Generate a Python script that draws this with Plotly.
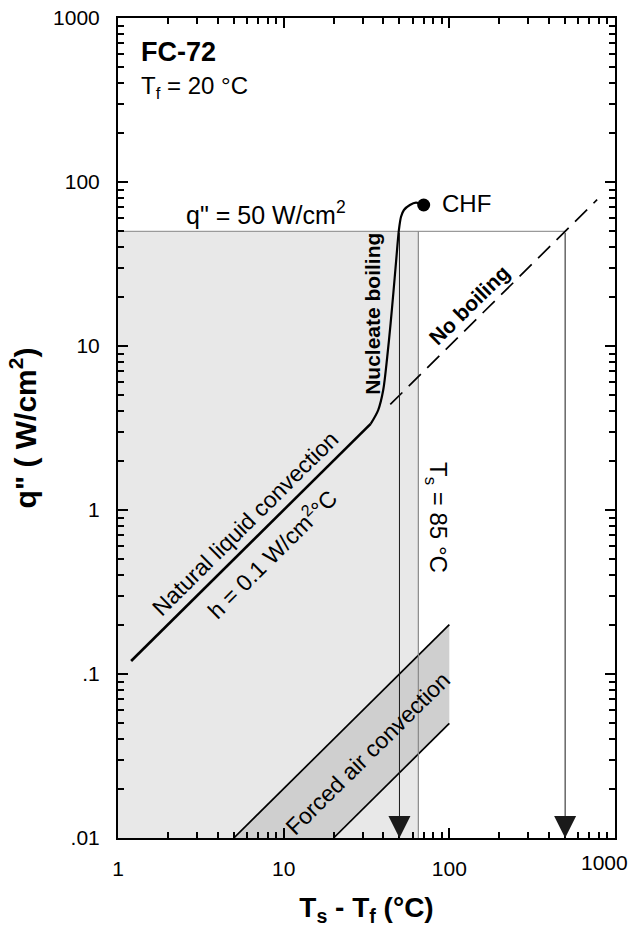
import math
import plotly.graph_objects as go

# ---------------- data ----------------
# Natural liquid convection, h = 0.1 W/cm2 C
NAT_DT = [1.2, 33.5]
NAT_Q = [0.12, 3.35]
# Nucleate boiling curve up to CHF
NUC_DT = [33.5, 37.2, 39.9, 42.2, 44.2, 45.9, 47.6, 49.6, 51.1, 53.2, 57.8, 62.9, 70]
NUC_Q = [3.35, 4.07, 5.39, 8.61, 13.7, 20.9, 31.9, 50.9, 61.4, 67.5, 72.4, 74.8, 72.4]
# Critical heat flux point
CHF_DT = [70]
CHF_Q = [72.4]
# No boiling extension (dashed)
NB_DT = [44, 780]
NB_Q = [4.4, 78]
# Forced air convection band (upper and lower bounds)
FA_HI_DT = [5, 100]
FA_HI_Q = [0.01, 0.2]
FA_LO_DT = [20, 100]
FA_LO_Q = [0.01, 0.05]
# Design limits
Q_LIMIT = 50          # W/cm2
TS_LIMIT_DT = 65      # Ts = 85 C with Tf = 20 C
ARROW_DT = [50, 500]  # Ts - Tf reached at q = 50 W/cm2
X_MIN, X_MAX = 1, 1000
Y_MIN, Y_MAX = 0.01, 1000
X_TICKTEXT = {"1000": " "}          # the 1000 label is placed as an annotation
X_LAST_LABEL = "1000"
Y_TICKTEXT = {"0.01": ".01", "0.1": ".1"}

FONT = "Liberation Sans, Arial, Helvetica, sans-serif"
L = math.log10

fig = go.Figure()

# shaded operating region
fig.add_trace(go.Scatter(
    x=[X_MIN, TS_LIMIT_DT, TS_LIMIT_DT, X_MIN, X_MIN],
    y=[Y_MIN, Y_MIN, Q_LIMIT, Q_LIMIT, Y_MIN],
    mode="lines", fill="toself", fillcolor="#e8e8e8",
    line=dict(width=0), hoverinfo="skip", showlegend=False))

# forced air band
fig.add_trace(go.Scatter(
    x=FA_HI_DT + FA_LO_DT[::-1] + [FA_HI_DT[0]],
    y=FA_HI_Q + FA_LO_Q[::-1] + [FA_HI_Q[0]],
    mode="lines", fill="toself", fillcolor="#cfcfcf",
    line=dict(width=0), hoverinfo="skip", showlegend=False))
fig.add_trace(go.Scatter(x=FA_HI_DT, y=FA_HI_Q, mode="lines",
                         line=dict(color="black", width=1.7), showlegend=False))
fig.add_trace(go.Scatter(x=FA_LO_DT, y=FA_LO_Q, mode="lines",
                         line=dict(color="black", width=1.7), showlegend=False))

# q = 50 limit line and Ts limit line
fig.add_trace(go.Scatter(x=[X_MIN, ARROW_DT[1]], y=[Q_LIMIT, Q_LIMIT], mode="lines",
                         line=dict(color="#9a9a9a", width=1.2), showlegend=False))
fig.add_trace(go.Scatter(x=[TS_LIMIT_DT, TS_LIMIT_DT], y=[Y_MIN, Q_LIMIT], mode="lines",
                         line=dict(color="#888888", width=1.2), showlegend=False))

# no boiling dashed
fig.add_trace(go.Scatter(x=NB_DT, y=NB_Q, mode="lines",
                         line=dict(color="black", width=1.7, dash="17px,9px"),
                         showlegend=False))
# natural convection + nucleate boiling
fig.add_trace(go.Scatter(x=NAT_DT, y=NAT_Q, mode="lines",
                         line=dict(color="black", width=2.6), showlegend=False))
fig.add_trace(go.Scatter(x=NUC_DT, y=NUC_Q, mode="lines",
                         line=dict(color="black", width=2.2, shape="spline", smoothing=0.8),
                         showlegend=False))
fig.add_trace(go.Scatter(x=CHF_DT, y=CHF_Q, mode="markers",
                         marker=dict(color="black", size=13), showlegend=False))

annotations = []
for dt in ARROW_DT:
    annotations.append(dict(
        x=L(dt), y=L(Y_MIN), ax=L(dt), ay=L(Q_LIMIT), xref="x", yref="y",
        axref="x", ayref="y", text="", showarrow=True, arrowhead=2,
        arrowsize=4.4, arrowwidth=1, arrowcolor="#1a1a1a"))


def txt(text, x, y, size, angle=0, bold=False, xanchor="center", yanchor="middle"):
    if bold:
        text = "<b>" + text + "</b>"
    annotations.append(dict(
        text=text, x=L(x), y=L(y), xref="x", yref="y", showarrow=False,
        textangle=angle, xanchor=xanchor, yanchor=yanchor,
        font=dict(family=FONT, size=size, color="black")))


txt("FC-72", 1.33, 621, 27, bold=True, xanchor="left")
txt("T<sub>f</sub> = 20 °C", 1.33, 375, 24, xanchor="left")
txt("q\" = 50 W/cm<sup>2</sup>", 2.5, 50, 25, xanchor="left", yanchor="bottom")
txt("CHF", 88, 74, 24, xanchor="left")
txt("Nucleate boiling", 34.6, 15.7, 21, angle=-90, bold=True)
txt("No boiling", 133, 17.8, 21, angle=-44.5, bold=True)
txt("Natural liquid convection", 5.9, 0.83, 23, angle=-44.7)
txt("h = 0.1 W/cm<sup>2</sup>°C", 8.47, 0.545, 23, angle=-44.7)
txt("T<sub>s</sub> = 85 °C", 84.2, 0.893, 24, angle=90)
txt("Forced air convection", 32.4, 0.0328, 23, angle=-44.7)
# last x tick label, kept inside the page as in the original
annotations.append(dict(
    text=X_LAST_LABEL, x=L(X_MAX), y=0, xref="x", yref="paper", showarrow=False,
    xanchor="right", yanchor="top", xshift=15, yshift=-11,
    font=dict(family=FONT, size=21, color="black")))

fig.update_layout(
    width=634, height=927,
    margin=dict(l=118, r=19, t=18, b=89, autoexpand=False),
    paper_bgcolor="white", plot_bgcolor="white",
    font=dict(family=FONT, color="black"),
    annotations=annotations,
    showlegend=False,
)

minor_vals = [m * 10 ** d for d in range(-2, 3) for m in range(2, 10)]

axis_common = dict(
    type="log", showgrid=False, zeroline=False, automargin=False,
    showline=True, linewidth=2, linecolor="black", mirror="allticks",
    ticks="inside", ticklen=10, tickwidth=2, tickcolor="black", layer="above traces",
    minor=dict(ticks="inside", ticklen=6, tickwidth=1.5, tickcolor="black",
               tickmode="array", tickvals=minor_vals, showgrid=False),
    tickfont=dict(family=FONT, size=21, color="black"),
    exponentformat="none", dtick=1, ticklabeloverflow="allow",
)
fig.update_xaxes(**axis_common, range=[L(X_MIN), L(X_MAX)],
                 labelalias=X_TICKTEXT,
                 ticklabelstandoff=11,
                 title=dict(text="<b>T<sub>s</sub> - T<sub>f</sub> (°C)</b>",
                            font=dict(family=FONT, size=28), standoff=18))
fig.update_yaxes(**axis_common, range=[L(Y_MIN), L(Y_MAX)],
                 labelalias=Y_TICKTEXT,
                 ticklabelstandoff=12,
                 title=dict(text="<b>q\" ( W/cm<sup>2</sup>)</b>",
                            font=dict(family=FONT, size=30), standoff=8))

fig.write_html("out.html", config={"displayModeBar": False},
               post_script="document.body.style.margin='0px';")
